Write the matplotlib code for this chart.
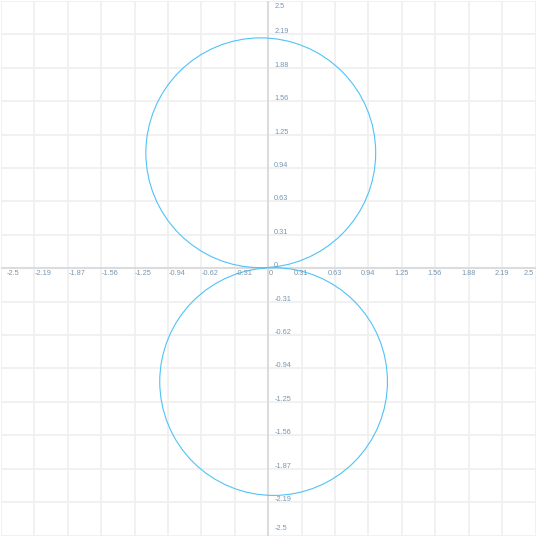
import matplotlib
matplotlib.use('Agg')
import matplotlib.pyplot as plt
import matplotlib.transforms as mtransforms
from matplotlib.patches import Circle
import numpy as np

# axis range and tick labels as printed on the chart
AXIS_MIN, AXIS_MAX = -2.5, 2.5
tick_values = [-2.5, -2.1875, -1.875, -1.5625, -1.25, -0.9375, -0.625, -0.3125,
               0.0, 0.3125, 0.625, 0.9375, 1.25, 1.5625, 1.875, 2.1875, 2.5]
x_tick_labels = ['-2.5', '-2.19', '-1.87', '-1.56', '-1.25', '-0.94', '-0.62', '-0.31',
                 '0', '0.31', '0.63', '0.94', '1.25', '1.56', '1.88', '2.19', '2.5']
y_tick_labels = x_tick_labels

# the two circles (centre x, centre y, radius)
circle_cx = [-0.07, 0.05]
circle_cy = [1.08, -1.06]
circle_r = [1.075, 1.065]

CURVE_COLOR = '#4fc3f7'
GRID_COLOR = '#efefef'
AXIS_COLOR = '#dcdcdc'
LABEL_COLOR = '#7896b0'

W = H = 537
fig = plt.figure(figsize=(W / 100, H / 100), dpi=100)
ax = fig.add_axes([1 / W, 1.5 / H, 534.5 / W, 534.5 / H])
ax.set_xlim(AXIS_MIN, AXIS_MAX)
ax.set_ylim(AXIS_MIN, AXIS_MAX)
ax.set_aspect('auto')

ax.set_xticks(tick_values)
ax.set_yticks(tick_values)
ax.tick_params(length=0, labelbottom=False, labelleft=False)
ax.grid(True, color=GRID_COLOR, linewidth=1.2, zorder=0)
for sp in ax.spines.values():
    sp.set_visible(False)
ax.set_axisbelow(True)

ax.axhline(0, color=AXIS_COLOR, linewidth=1.5, zorder=1)
ax.axvline(0, color=AXIS_COLOR, linewidth=1.5, zorder=1)

for cx, cy, r in zip(circle_cx, circle_cy, circle_r):
    ax.add_patch(Circle((cx, cy), r, fill=False, edgecolor=CURVE_COLOR,
                        linewidth=0.8, zorder=3))

font = dict(family=['Liberation Sans', 'DejaVu Sans'], size=5.3, color=LABEL_COLOR)

# x-axis labels below the horizontal axis
for v, lab in zip(tick_values, x_tick_labels):
    if v == AXIS_MIN:
        dx, ha = 6, 'left'
    elif v == AXIS_MAX:
        dx, ha = -1.5, 'right'
    elif v <= 0:
        dx, ha = 0.5, 'left'
    else:
        dx, ha = -0.5, 'center'
    tr = mtransforms.offset_copy(ax.transData, fig=fig, x=dx * 0.72, y=-1.5 * 0.72,
                                 units='points')
    ax.text(v, 0, lab, transform=tr, ha=ha, va='top', zorder=4, **font)

# y-axis labels right of the vertical axis
for v, lab in zip(tick_values, y_tick_labels):
    if v == AXIS_MAX:
        dy, va = -2, 'top'
    elif v == AXIS_MIN:
        dy, va = 3, 'bottom'
    else:
        dy, va = -1, 'bottom'
    tr = mtransforms.offset_copy(ax.transData, fig=fig, x=6 * 0.72, y=dy * 0.72,
                                 units='points')
    ax.text(0, v, lab, transform=tr, ha='left', va=va, zorder=4, **font)

fig.savefig('out.png', dpi=100)
